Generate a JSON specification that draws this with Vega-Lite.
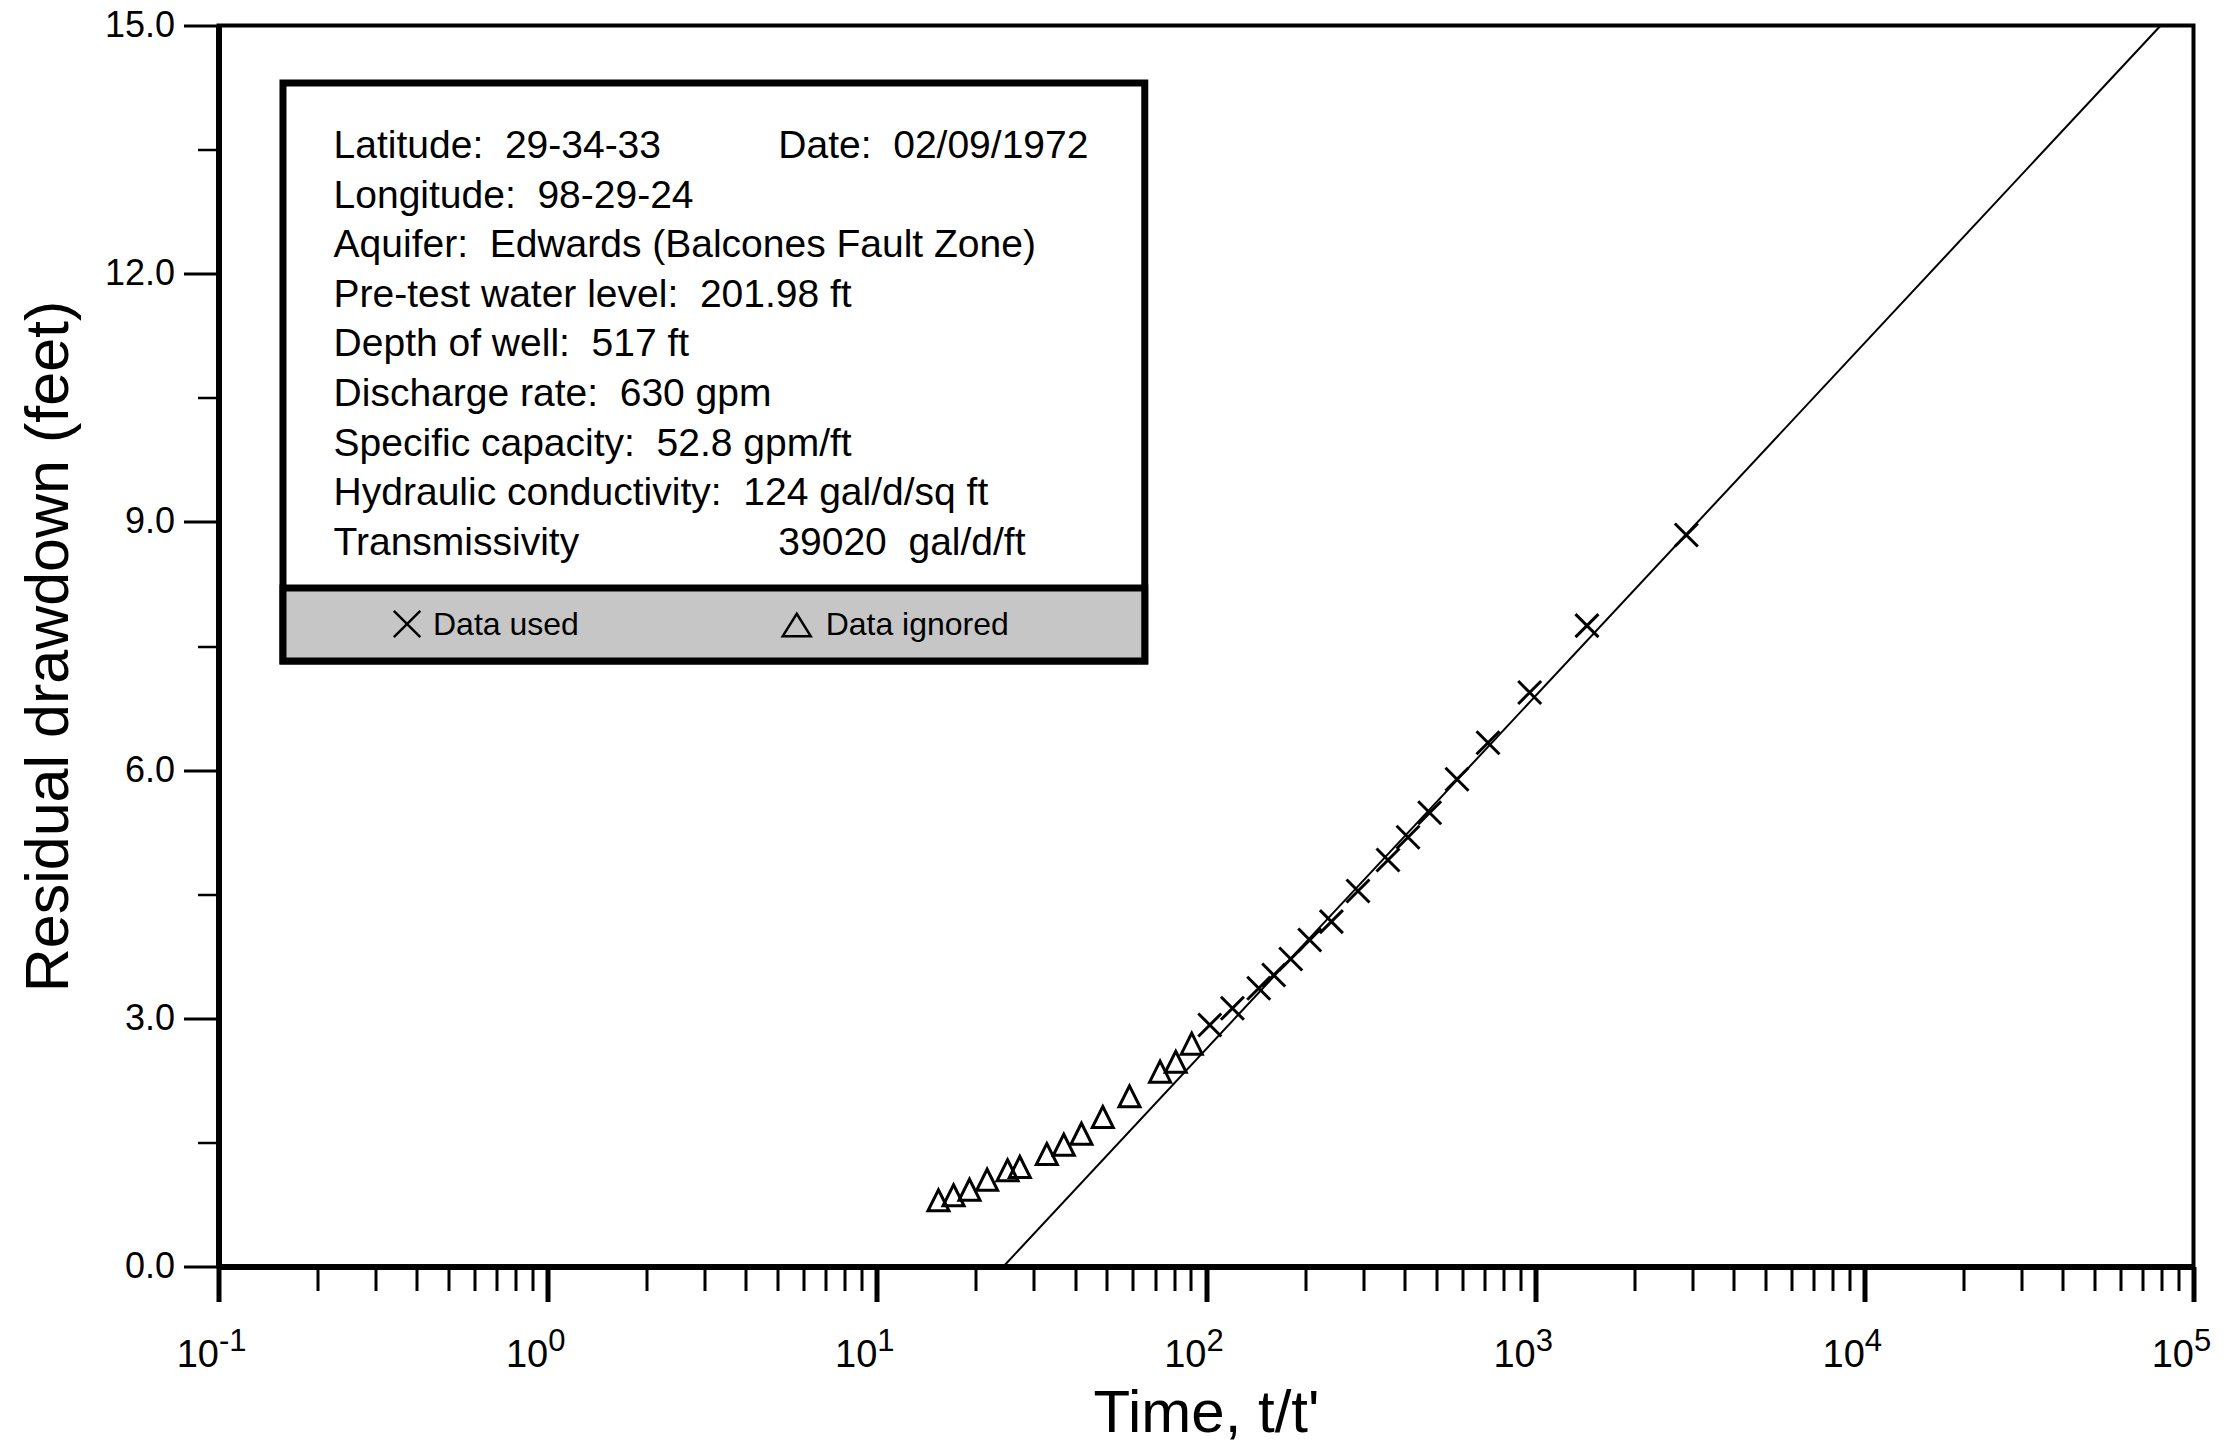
{
  "$schema": "https://vega.github.io/schema/vega-lite/v6.json",
  "width": 1975,
  "height": 1241,
  "autosize": {"type": "none"},
  "padding": {"left": 218.5, "top": 25.5, "right": 42.5, "bottom": 182.5},
  "background": "white",
  "config": {
    "view": {"stroke": "black", "strokeWidth": 4},
    "font": "Liberation Sans",
    "axis": {"labelColor": "black", "titleColor": "black", "tickColor": "black", "domainColor": "black", "labelFont": "Liberation Sans", "titleFont": "Liberation Sans", "grid": false, "labelFlush": false, "labelOverlap": false, "labelBound": false}
  },
  "datasets": {
    "box": [{"x": 0.157, "x2": 65.16, "y": 7.319, "y2": 14.305}],
    "gray": [{"x": 0.157, "x2": 65.16, "y": 7.319, "y2": 8.201}],
    "info": [
      {"x": 0.2237, "y": 13.40, "label": "Latitude:\u00a0 29-34-33"},
      {"x": 5.02, "y": 13.40, "label": "Date:\u00a0 02/09/1972"},
      {"x": 0.2237, "y": 12.80, "label": "Longitude:\u00a0 98-29-24"},
      {"x": 0.2237, "y": 12.20, "label": "Aquifer:\u00a0 Edwards (Balcones Fault Zone)"},
      {"x": 0.2237, "y": 11.60, "label": "Pre-test water level:\u00a0 201.98 ft"},
      {"x": 0.2237, "y": 11.00, "label": "Depth of well:\u00a0 517 ft"},
      {"x": 0.2237, "y": 10.40, "label": "Discharge rate:\u00a0 630 gpm"},
      {"x": 0.2237, "y": 9.80, "label": "Specific capacity:\u00a0 52.8 gpm/ft"},
      {"x": 0.2237, "y": 9.20, "label": "Hydraulic conductivity:\u00a0 124 gal/d/sq ft"},
      {"x": 0.2237, "y": 8.60, "label": "Transmissivity"},
      {"x": 5.02, "y": 8.60, "label": "39020\u00a0 gal/d/ft"}
    ],
    "legendText": [
      {"x": 0.4483, "y": 7.639, "label": "Data used"},
      {"x": 6.99, "y": 7.639, "label": "Data ignored"}
    ],
    "legendUsed": [{"x": 0.374, "y": 7.766}],
    "legendIgnored": [{"x": 5.71, "y": 7.754}],
    "fit": [{"x": 24.24, "y": 0}, {"x": 79500, "y": 15}],
    "obs": [
      {"x": 15.39, "y": 0.800, "status": "ignored"},
      {"x": 17.10, "y": 0.861, "status": "ignored"},
      {"x": 19.12, "y": 0.928, "status": "ignored"},
      {"x": 21.63, "y": 1.049, "status": "ignored"},
      {"x": 24.95, "y": 1.163, "status": "ignored"},
      {"x": 27.19, "y": 1.203, "status": "ignored"},
      {"x": 32.84, "y": 1.360, "status": "ignored"},
      {"x": 36.98, "y": 1.472, "status": "ignored"},
      {"x": 41.84, "y": 1.605, "status": "ignored"},
      {"x": 48.58, "y": 1.807, "status": "ignored"},
      {"x": 58.55, "y": 2.057, "status": "ignored"},
      {"x": 72.53, "y": 2.355, "status": "ignored"},
      {"x": 80.92, "y": 2.475, "status": "ignored"},
      {"x": 90.50, "y": 2.693, "status": "ignored"},
      {"x": 102.7, "y": 2.919, "status": "used"},
      {"x": 120.3, "y": 3.121, "status": "used"},
      {"x": 144.6, "y": 3.363, "status": "used"},
      {"x": 160.6, "y": 3.523, "status": "used"},
      {"x": 180.9, "y": 3.717, "status": "used"},
      {"x": 206.6, "y": 3.947, "status": "used"},
      {"x": 240.4, "y": 4.168, "status": "used"},
      {"x": 289.6, "y": 4.539, "status": "used"},
      {"x": 357.2, "y": 4.914, "status": "used"},
      {"x": 410.9, "y": 5.188, "status": "used"},
      {"x": 478.1, "y": 5.485, "status": "used"},
      {"x": 578.7, "y": 5.889, "status": "used"},
      {"x": 718.9, "y": 6.331, "status": "used"},
      {"x": 962.3, "y": 6.938, "status": "used"},
      {"x": 1436.6, "y": 7.746, "status": "used"},
      {"x": 2879, "y": 8.842, "status": "used"}
    ]
  },
  "encoding": {
    "x": {"field": "x", "type": "quantitative", "scale": {"type": "log", "domain": [0.1, 100000], "nice": false}, "axis": null},
    "y": {"field": "y", "type": "quantitative", "scale": {"domain": [0, 15], "nice": false, "zero": false}, "axis": null}
  },
  "layer": [
    {
      "data": {"name": "box"},
      "mark": {"type": "rect", "fill": "white", "stroke": "black", "strokeWidth": 7},
      "encoding": {
        "x": {"field": "x", "type": "quantitative", "scale": {"type": "log", "domain": [0.1, 100000], "nice": false},
          "axis": {"orient": "bottom", "values": [0.1, 1, 10, 100, 1000, 10000, 100000], "labelExpr": "'10'", "labelFontSize": 38, "labelAlign": "right", "labelDx": 11, "labelBaseline": "alphabetic", "labelPadding": 64.5, "tickSize": 35, "tickWidth": 5, "domainWidth": 6, "title": "Time, t/t'", "titleFontSize": 60, "titleFontWeight": "normal", "titlePadding": 10}},
        "x2": {"field": "x2"},
        "y": {"field": "y", "type": "quantitative", "scale": {"domain": [0, 15], "nice": false, "zero": false},
          "axis": {"orient": "left", "values": [0, 3, 6, 9, 12, 15], "format": ".1f", "labelFontSize": 36, "labelAlign": "right", "labelBaseline": "middle", "labelPadding": 9, "tickSize": 35, "tickWidth": 3, "domainWidth": 6, "title": "Residual drawdown (feet)", "titleFontSize": 61, "titleFontWeight": "normal", "titlePadding": 24}},
        "y2": {"field": "y2"}
      }
    },
    {
      "data": {"name": "gray"},
      "mark": {"type": "rect", "fill": "#c6c6c6", "stroke": "black", "strokeWidth": 7},
      "encoding": {
        "x": {"field": "x", "type": "quantitative", "scale": {"type": "log", "domain": [0.1, 100000], "nice": false},
          "axis": {"orient": "bottom", "values": [0.2, 0.3, 0.4, 0.5, 0.6, 0.7, 0.8, 0.9, 2, 3, 4, 5, 6, 7, 8, 9, 20, 30, 40, 50, 60, 70, 80, 90, 200, 300, 400, 500, 600, 700, 800, 900, 2000, 3000, 4000, 5000, 6000, 7000, 8000, 9000, 20000, 30000, 40000, 50000, 60000, 70000, 80000, 90000], "labels": false, "domain": false, "tickSize": 24, "tickWidth": 3, "title": null}},
        "x2": {"field": "x2"},
        "y": {"field": "y", "type": "quantitative", "scale": {"domain": [0, 15], "nice": false, "zero": false},
          "axis": {"orient": "left", "values": [1.5, 4.5, 7.5, 10.5, 13.5], "labels": false, "domain": false, "tickSize": 21, "tickWidth": 2.5, "title": null}},
        "y2": {"field": "y2"}
      }
    },
    {
      "data": {"name": "info"},
      "mark": {"type": "text", "align": "left", "baseline": "alphabetic", "fontSize": 39, "font": "Liberation Sans", "color": "black"},
      "encoding": {
        "x": {"field": "x", "type": "quantitative", "scale": {"type": "log", "domain": [0.1, 100000], "nice": false},
          "axis": {"orient": "bottom", "values": [0.1, 1, 10, 100, 1000, 10000, 100000], "labelExpr": "'' + round(log(datum.value) / LN10)", "labelFontSize": 31, "labelAlign": "left", "labelDx": 12, "labelBaseline": "alphabetic", "labelPadding": 83.5, "ticks": false, "tickSize": 0, "domain": false, "title": null}},
        "text": {"field": "label", "type": "nominal"}
      }
    },
    {
      "data": {"name": "legendText"},
      "mark": {"type": "text", "align": "left", "baseline": "alphabetic", "fontSize": 32, "font": "Liberation Sans", "color": "black"},
      "encoding": {"text": {"field": "label", "type": "nominal"}}
    },
    {
      "data": {"name": "legendUsed"},
      "mark": {"type": "point", "shape": "M-1,-1L1,1M-1,1L1,-1", "size": 700, "filled": false, "color": "black", "strokeWidth": 2.5, "opacity": 1}
    },
    {
      "data": {"name": "legendIgnored"},
      "mark": {"type": "point", "shape": "M0,-0.8L1,0.8L-1,0.8Z", "size": 784, "filled": false, "color": "black", "strokeWidth": 2.5, "opacity": 1}
    },
    {
      "data": {"name": "fit"},
      "mark": {"type": "line", "color": "black", "strokeWidth": 2}
    },
    {
      "data": {"name": "obs"},
      "transform": [{"filter": "datum.status === 'ignored'"}],
      "mark": {"type": "point", "shape": "M0,-1L1,1L-1,1Z", "size": 441, "filled": false, "color": "black", "strokeWidth": 3, "opacity": 1}
    },
    {
      "data": {"name": "obs"},
      "transform": [{"filter": "datum.status === 'used'"}],
      "mark": {"type": "point", "shape": "M-1,-1L1,1M-1,1L1,-1", "size": 529, "filled": false, "color": "black", "strokeWidth": 3, "opacity": 1}
    }
  ],
  "resolve": {"scale": {"x": "shared", "y": "shared"}, "axis": {"x": "independent", "y": "independent"}}
}
